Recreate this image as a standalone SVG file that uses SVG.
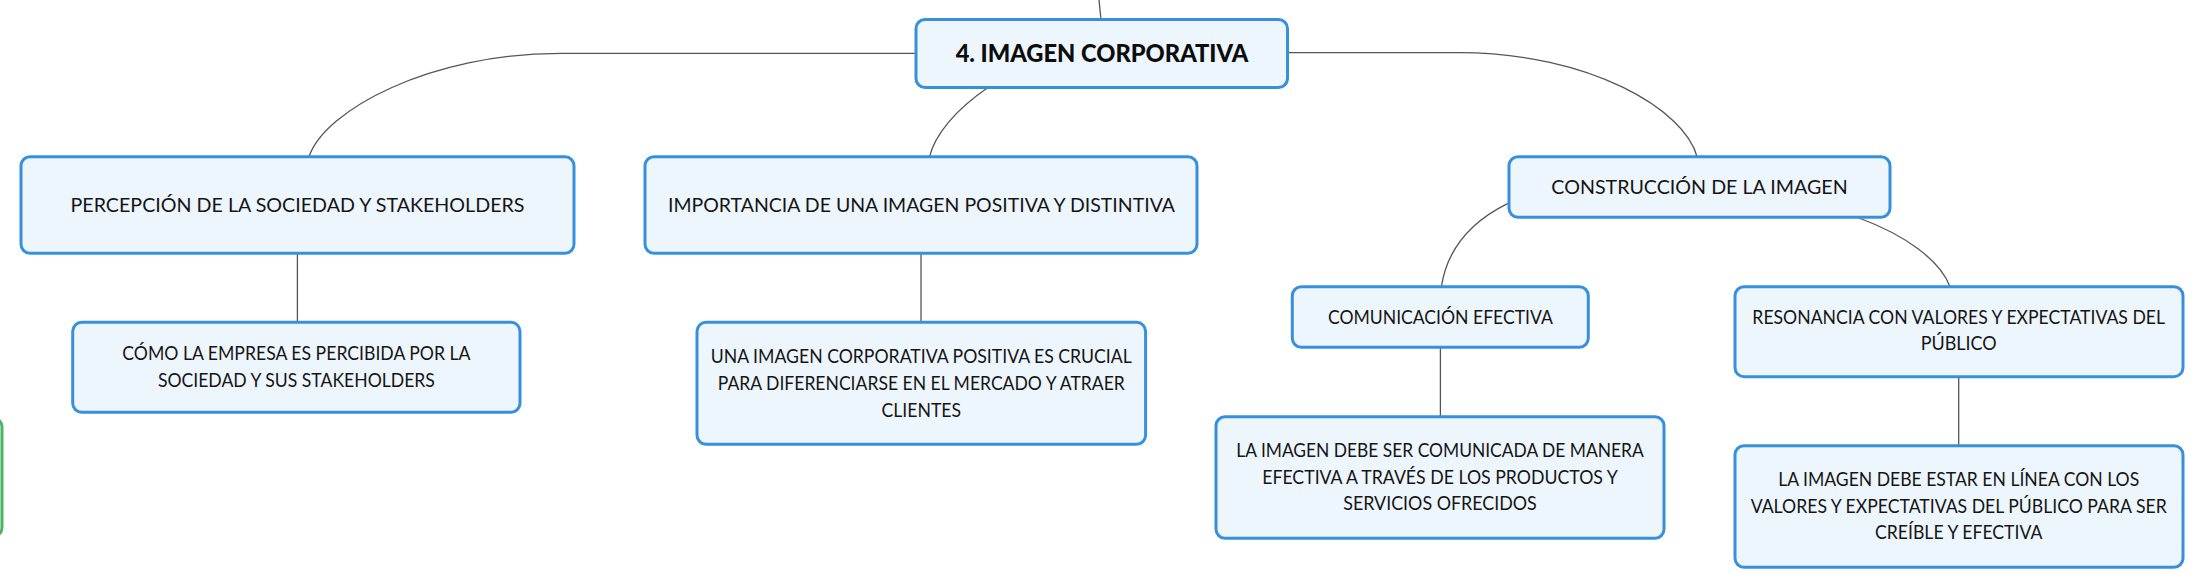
<svg xmlns="http://www.w3.org/2000/svg" width="2204" height="588" viewBox="0 0 2204 588">
<style>
.box{fill:#eef6fd;stroke:#3790de;stroke-width:3}
.t{font-family:Lato,"Liberation Sans",sans-serif;font-size:18.6px;fill:#151515;text-anchor:middle}
.rt{font-family:Lato,"Liberation Sans",sans-serif;font-size:24.5px;font-weight:900;fill:#0d0d0d;text-anchor:middle}
.c{fill:none;stroke:#555;stroke-width:1.3}
</style>
<rect width="2204" height="588" fill="#ffffff"/>
<g id="connectors">
<path class="c" d="M1101,19.5 L1099,0"/>
<path class="c" d="M916,53.3 H561 C430,53.3 325,110 309,156.7"/>
<path class="c" d="M1287.7,52.7 H1459 C1590,52.7 1685,110 1697,156.7"/>
<path class="c" d="M988,87.5 C955,110 935,135 929.5,156.7"/>
<path class="c" d="M297.4,253.3 V322.3"/>
<path class="c" d="M921,253.3 V322.3"/>
<path class="c" d="M1508,203.3 C1470,222 1447,250 1441.4,286.7"/>
<path class="c" d="M1859,218 C1905,235 1940,260 1950,286.7"/>
<path class="c" d="M1440.4,347.7 V416.7"/>
<path class="c" d="M1958.7,376.7 V445.7"/>
</g>
<g id="edge-node">
<rect x="-40" y="418" width="42" height="118.5" rx="9" fill="#f1f9f2" stroke="#4cb464" stroke-width="3"/>
</g>
<g id="root">
<rect class="box" x="916" y="19.5" width="371.5" height="68" rx="9"/>
<text class="rt" x="1102" y="62.3" textLength="292.7" lengthAdjust="spacingAndGlyphs">4. IMAGEN CORPORATIVA</text>
</g>
<g id="n-percepcion">
<rect class="box" x="21" y="156.7" width="553" height="96.6" rx="9"/>
<text class="t" x="297.5" y="211.8" textLength="454" lengthAdjust="spacingAndGlyphs">PERCEPCIÓN DE LA SOCIEDAD Y STAKEHOLDERS</text>
</g>
<g id="n-importancia">
<rect class="box" x="645" y="156.7" width="552" height="96.6" rx="9"/>
<text class="t" x="921.5" y="211.8" textLength="507" lengthAdjust="spacingAndGlyphs">IMPORTANCIA DE UNA IMAGEN POSITIVA Y DISTINTIVA</text>
</g>
<g id="n-construccion">
<rect class="box" x="1509" y="156.7" width="381" height="60.6" rx="9"/>
<text class="t" x="1699.5" y="193.5" textLength="296.4" lengthAdjust="spacingAndGlyphs">CONSTRUCCIÓN DE LA IMAGEN</text>
</g>
<g id="n-como">
<rect class="box" x="72.7" y="322.3" width="447.3" height="90" rx="9"/>
<text class="t" x="296.4" y="359.5" textLength="348.2" lengthAdjust="spacingAndGlyphs">CÓMO LA EMPRESA ES PERCIBIDA POR LA</text>
<text class="t" x="296.4" y="386.8" textLength="277" lengthAdjust="spacingAndGlyphs">SOCIEDAD Y SUS STAKEHOLDERS</text>
</g>
<g id="n-una-imagen">
<rect class="box" x="697" y="322.3" width="448.6" height="122" rx="9"/>
<text class="t" x="921.3" y="362.8" textLength="421" lengthAdjust="spacingAndGlyphs">UNA IMAGEN CORPORATIVA POSITIVA ES CRUCIAL</text>
<text class="t" x="921.3" y="390.1" textLength="407" lengthAdjust="spacingAndGlyphs">PARA DIFERENCIARSE EN EL MERCADO Y ATRAER</text>
<text class="t" x="921.3" y="416.8" textLength="79.6" lengthAdjust="spacingAndGlyphs">CLIENTES</text>
</g>
<g id="n-comunicacion">
<rect class="box" x="1292.3" y="286.7" width="296" height="60.6" rx="9"/>
<text class="t" x="1440.4" y="323.5" textLength="225" lengthAdjust="spacingAndGlyphs">COMUNICACIÓN EFECTIVA</text>
</g>
<g id="n-resonancia">
<rect class="box" x="1735" y="286.7" width="448" height="90" rx="9"/>
<text class="t" x="1958.7" y="323.5" textLength="412.7" lengthAdjust="spacingAndGlyphs">RESONANCIA CON VALORES Y EXPECTATIVAS DEL</text>
<text class="t" x="1958.7" y="350.1" textLength="76" lengthAdjust="spacingAndGlyphs">PÚBLICO</text>
</g>
<g id="n-comunicada">
<rect class="box" x="1216" y="416.7" width="448" height="121.6" rx="9"/>
<text class="t" x="1440" y="456.8" textLength="407.4" lengthAdjust="spacingAndGlyphs">LA IMAGEN DEBE SER COMUNICADA DE MANERA</text>
<text class="t" x="1440" y="483.5" textLength="355.6" lengthAdjust="spacingAndGlyphs">EFECTIVA A TRAVÉS DE LOS PRODUCTOS Y</text>
<text class="t" x="1440" y="510.1" textLength="193.6" lengthAdjust="spacingAndGlyphs">SERVICIOS OFRECIDOS</text>
</g>
<g id="n-en-linea">
<rect class="box" x="1735" y="445.7" width="448" height="121.6" rx="9"/>
<text class="t" x="1958.7" y="485.8" textLength="361" lengthAdjust="spacingAndGlyphs">LA IMAGEN DEBE ESTAR EN LÍNEA CON LOS</text>
<text class="t" x="1958.7" y="512.5" textLength="416" lengthAdjust="spacingAndGlyphs">VALORES Y EXPECTATIVAS DEL PÚBLICO PARA SER</text>
<text class="t" x="1958.7" y="539.1" textLength="167.4" lengthAdjust="spacingAndGlyphs">CREÍBLE Y EFECTIVA</text>
</g>
</svg>
